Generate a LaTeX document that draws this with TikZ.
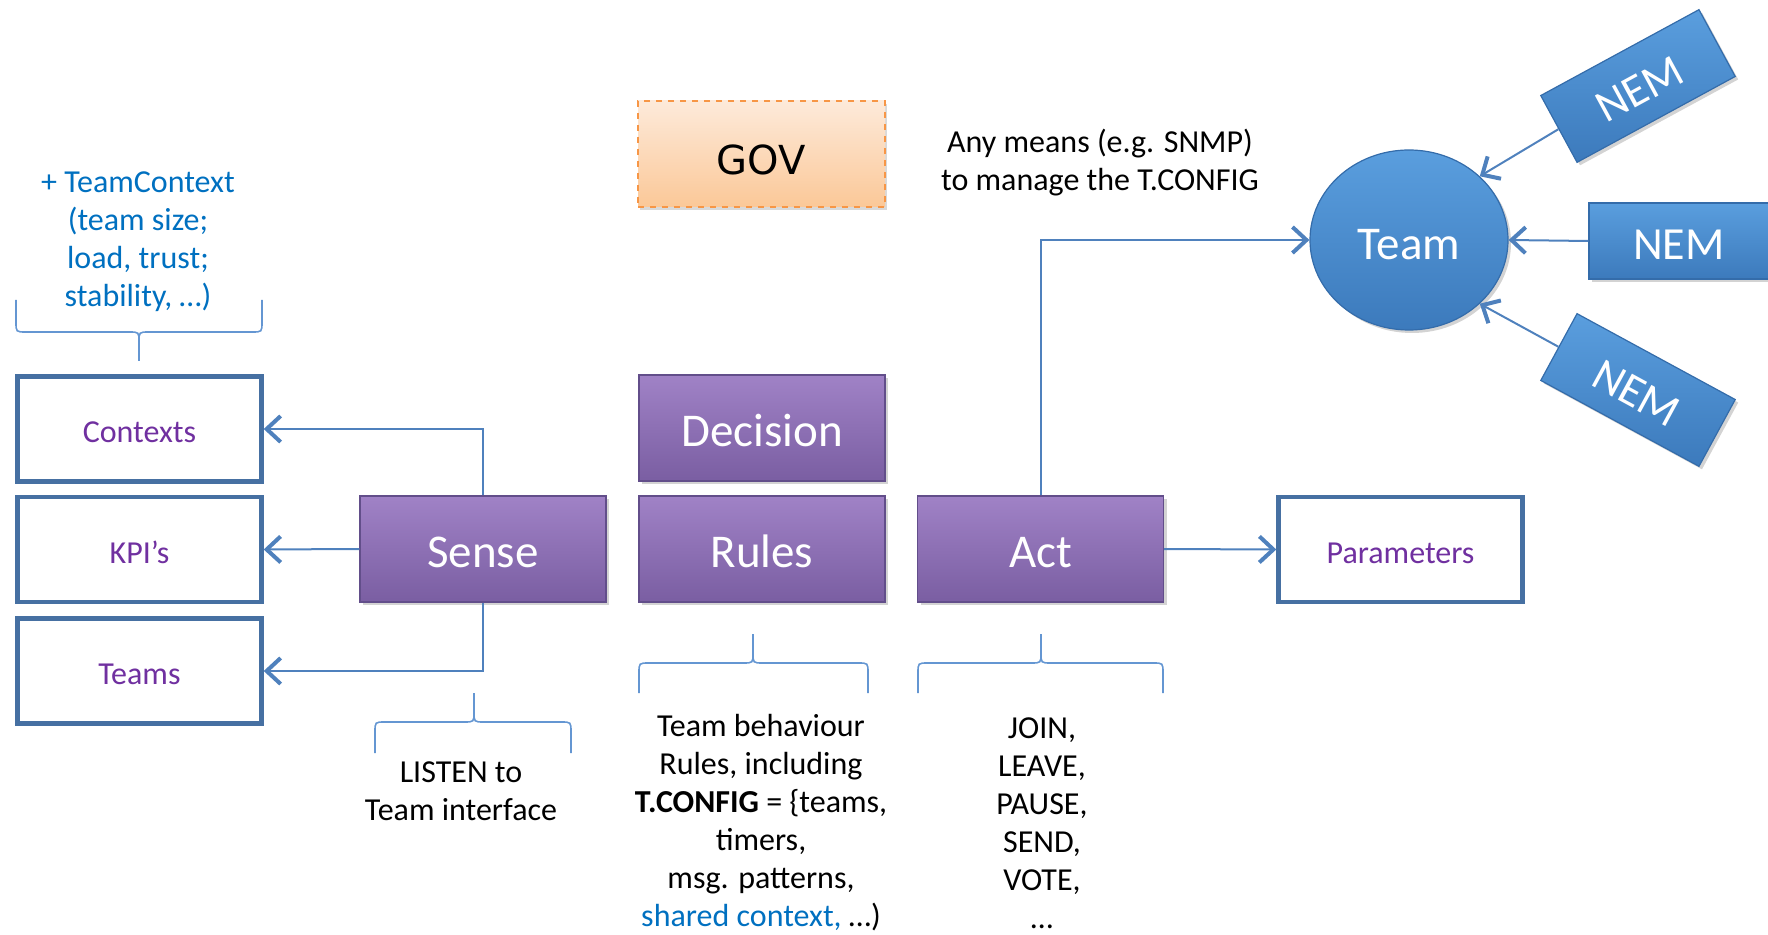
\documentclass[tikz,border=0pt]{standalone}
\usepackage{fontspec}
\setmainfont{Carlito}
\newfontfamily\govfont{DejaVu Sans}
\usetikzlibrary{arrows.meta,shadows,shapes.geometric}
\definecolor{conncol}{RGB}{79,129,189}
\definecolor{bracecol}{RGB}{100,150,210}
\definecolor{outcol}{RGB}{70,112,162}
\definecolor{txtpurple}{RGB}{112,48,160}
\definecolor{txtblue}{RGB}{0,112,192}
\definecolor{ptop}{RGB}{160,130,198}
\definecolor{pbot}{RGB}{122,94,162}
\definecolor{pline}{RGB}{98,78,138}
\definecolor{btop}{RGB}{90,158,222}
\definecolor{bbot}{RGB}{60,122,188}
\definecolor{bline}{RGB}{52,108,170}
\definecolor{gtop}{RGB}{253,234,218}
\definecolor{gbot}{RGB}{251,200,152}
\definecolor{gline}{RGB}{247,150,70}
\begin{document}
\begin{tikzpicture}[x=0.5pt,y=-0.5pt,
  outbox/.style={draw=outcol,line width=2.2pt,fill=white,minimum width=122pt,minimum height=52.5pt,inner sep=0pt,text=txtpurple,font=\fontsize{16}{19}\selectfont,text height=13.7pt,text depth=0pt},
  pbox/.style={draw=pline,line width=0.6pt,top color=ptop,bottom color=pbot,minimum width=123pt,minimum height=53pt,inner sep=0pt,text=white,font=\fontsize{23.5}{28}\selectfont,text height=18.7pt,text depth=0pt,drop shadow={shadow xshift=1.5pt,shadow yshift=-1.5pt,opacity=0.35}},
  govbox/.style={draw=gline,dashed,line width=1pt,top color=gtop,bottom color=gbot,minimum width=123.5pt,minimum height=53pt,inner sep=0pt,text=black,font=\govfont\fontsize{20}{24}\selectfont,text height=20.2pt,text depth=0pt,drop shadow={shadow xshift=1.2pt,shadow yshift=-1.5pt,opacity=0.3}},
  teamnode/.style={ellipse,draw=bline,line width=0.6pt,top color=btop,bottom color=bbot,minimum width=99pt,minimum height=90pt,inner sep=0pt,text=white,font=\fontsize{23.5}{28}\selectfont,text height=19.6pt,text depth=0pt,drop shadow={shadow xshift=1.5pt,shadow yshift=-1.5pt,opacity=0.35}},
  nembox/.style={draw=bline,line width=0.6pt,top color=btop,bottom color=bbot,minimum width=90pt,minimum height=38pt,inner sep=0pt,text=white,font=\fontsize{23}{28}\selectfont,text height=18.4pt,text depth=0pt,drop shadow={shadow xshift=1.5pt,shadow yshift=-1.5pt,opacity=0.35}},
  note/.style={align=center,inner sep=0pt,font=\fontsize{16}{19}\selectfont},
  conn/.style={draw=conncol,line width=1pt,-{Straight Barb[length=7pt,width=13pt,line width=2pt]}},
  bracel/.style={draw=bracecol,line width=0.8pt,line join=round}
]
\useasboundingbox (0,0) rectangle (1768,935);

% left outline boxes
\node[outbox] (ctx) at (139.5,429) {Contexts};
\node[outbox] (kpi) at (139.5,549.5) {KPI’s};
\node[outbox] (teams) at (139.5,671) {Teams};
% purple boxes
\node[pbox] (sense) at (483,549) {Sense};
\node[pbox] (decision) at (762,428) {Decision};
\node[pbox] (rules) at (762,549) {Rules};
\node[pbox] (act) at (1040.5,549) {Act};
\node[outbox] (params) at (1400.5,549.5) {Parameters};
% GOV
\node[govbox] (gov) at (761.5,154) {GOV};
% team and NEMs
\node[teamnode] (team) at (1409,240) {Team};
\node[nembox] (nem2) at (1679,241) {NEM};
\node[nembox,rotate=28.5] (nem1) at (1638,86) {NEM};
\node[nembox,rotate=-28.5] (nem3) at (1638,390) {NEM};

% text notes
\node[note,text=txtblue] (ctxnote) at (138,242) {+ TeamContext\\(team size;\\load, trust;\\stability, …)};
\node[note] (listen) at (461,791) {LISTEN to\\Team interface};
\node[note] (rulesnote) at (761,823) {Team behaviour\\Rules, including\\\textbf{T.CONFIG} = \{teams,\\timers,\\msg. patterns,\\\textcolor{txtblue}{shared context,} …)};
\node[note] (actnote) at (1042,823) {JOIN,\\LEAVE,\\PAUSE,\\SEND,\\VOTE,\\…};
\node[note] (anymeans) at (1100,163) {Any means (e.g. SNMP)\\to manage the T.CONFIG};

% connectors
\draw[conn] (sense.north) |- (ctx.east);
\draw[conn] (sense.west) -- (kpi.east);
\draw[conn] (sense.south) |- (teams.east);
\draw[conn] (act.east) -- (params.west);
\draw[conn] (act.north) |- (team.west);
\draw[conn] (nem2.west) -- (team.east);
\draw[conn] (nem1.west) -- (team.42);
\draw[conn] (nem3.west) -- (team.-42);

% braces
\draw[bracel] (16,300) -- (16,322) .. controls (16,332) .. (26,332) -- (129,332) .. controls (139,332) .. (139,342) -- (139,361);
\draw[bracel] (262,300) -- (262,322) .. controls (262,332) .. (252,332) -- (149,332) .. controls (139,332) .. (139,342);
\draw[bracel] (375,753) -- (375,732) .. controls (375,722) .. (385,722) -- (464,722) .. controls (474,722) .. (474,712) -- (474,693);
\draw[bracel] (571,753) -- (571,732) .. controls (571,722) .. (561,722) -- (484,722) .. controls (474,722) .. (474,712);
\draw[bracel] (639,693) -- (639,673) .. controls (639,663) .. (649,663) -- (743,663) .. controls (753,663) .. (753,653) -- (753,634);
\draw[bracel] (868,693) -- (868,673) .. controls (868,663) .. (858,663) -- (763,663) .. controls (753,663) .. (753,653);
\draw[bracel] (918,693) -- (918,673) .. controls (918,663) .. (928,663) -- (1031,663) .. controls (1041,663) .. (1041,653) -- (1041,634);
\draw[bracel] (1163,693) -- (1163,673) .. controls (1163,663) .. (1153,663) -- (1051,663) .. controls (1041,663) .. (1041,653);
\end{tikzpicture}
\end{document}
